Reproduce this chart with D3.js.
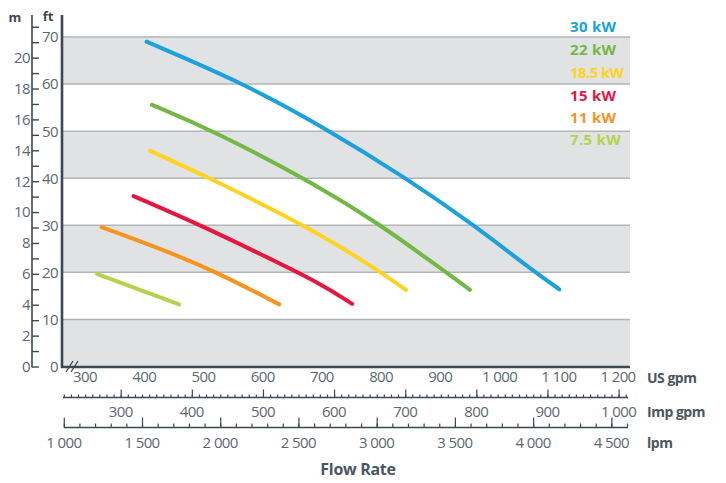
<!DOCTYPE html>
<html><head><meta charset="utf-8">
<script src="https://cdn.jsdelivr.net/npm/d3@7/dist/d3.min.js"></script>
<style>
body{margin:0;background:#fff}
svg{display:block;font-family:'Open Sans',sans-serif}
</style>
</head><body>
<svg id="chart" width="726" height="483"></svg>
<script>
// ---------- data ----------
const seriesNames  = ["30 kW","22 kW","18.5 kW","15 kW","11 kW","7.5 kW"];
const seriesColors = ["#1ba1dc","#72b844","#fed321","#e5173f","#f7941d","#b4d34a"];
const usgpm30  = [404, 567, 697, 843, 956, 1057, 1101];
const head30   = [69.0, 60.2, 51.3, 40.0, 30.1, 20.3, 16.4];
const usgpm22  = [413, 517, 697, 798, 866, 950];
const head22   = [55.6, 50.1, 38.2, 30.1, 24.0, 16.3];
const usgpm185 = [410, 522, 697, 798, 842];
const head185  = [45.8, 39.4, 28.3, 20.1, 16.3];
const usgpm15  = [382, 494, 596, 697, 751];
const head15   = [36.2, 30.1, 23.9, 17.7, 13.3];
const usgpm11  = [328, 432, 522, 628];
const head11   = [29.6, 24.8, 20.1, 13.2];
const usgpm75  = [320, 459];
const head75   = [19.7, 13.2];
const seriesFlow = [usgpm30, usgpm22, usgpm185, usgpm15, usgpm11, usgpm75];
const seriesHead = [head30, head22, head185, head15, head11, head75];

const usTicks  = [300,400,500,600,700,800,900,1000,1100,1200];
const impTicks = [300,400,500,600,700,800,900,1000];
const lpmTicks = [1000,1500,2000,2500,3000,3500,4000,4500];
const ftTicks  = [0,10,20,30,40,50,60,70];
const mTicks   = [0,2,4,6,8,10,12,14,16,18,20];
const ftBands  = [[0,10],[20,30],[40,50],[60,70]];

// ---------- scales ----------
const IMP = 1.20095, LPM = 3.78541, FT_PER_M = 3.28084;
const x = d3.scaleLinear().domain([300,1200]).range([85,618]);
const y = d3.scaleLinear().domain([0,70]).range([366.5,37]);
const yM = d3.scaleLinear().domain([0,70/FT_PER_M]).range([366.5,37]);
const xImp = d3.scaleLinear().domain([300,1000]).range([x(300*IMP), x(1000*IMP)]);
const xLpm = d3.scaleLinear().domain([1000,4500]).range([x(1000/LPM), x(4500/LPM)]);

const plotL = 62, plotR = 630, plotTop = 15, plotBot = 367;
const axisCol = "#3d4852", textCol = "#5d6870";
const fmt = v => v >= 1000 ? Math.floor(v/1000) + " " + String(v%1000).padStart(3,"0") : String(v);

const svg = d3.select("#chart");

// bands
svg.append("g").selectAll("rect").data(ftBands).join("rect")
  .attr("x", plotL).attr("width", plotR-plotL)
  .attr("y", d => y(d[1])).attr("height", d => y(d[0]) - y(d[1]))
  .attr("fill", "#e1e2e4");
// gridlines
svg.append("g").selectAll("line").data(ftTicks.filter(d=>d>0)).join("line")
  .attr("x1", plotL).attr("x2", plotR)
  .attr("y1", d => y(d)).attr("y2", d => y(d))
  .attr("stroke", "#b3b5b8").attr("stroke-width", 1.5);

// curves
const line = d3.line().x(d => x(d[0])).y(d => y(d[1])).curve(d3.curveBasis);
svg.append("g").selectAll("path").data(seriesNames).join("path")
  .attr("d", (d,i) => line(seriesFlow[i].map((f,j) => [f, seriesHead[i][j]])))
  .attr("fill","none").attr("stroke",(d,i)=>seriesColors[i])
  .attr("stroke-width",4).attr("stroke-linecap","round");

// legend
svg.append("g").selectAll("text").data(seriesNames).join("text")
  .attr("x", 570).attr("y", (d,i) => [27,50,72.5,96,117.5,139.5][i])
  .attr("dy","0.35em")
  .attr("fill",(d,i)=>seriesColors[i])
  .attr("font-size",15).attr("font-weight",700).attr("letter-spacing",(d,i)=> i===2 ? -0.6 : 0.3)
  .text(d=>d);

// ft axis line + bottom axis line
svg.append("line").attr("x1",plotL).attr("x2",plotL).attr("y1",plotTop).attr("y2",plotBot+1)
  .attr("stroke",axisCol).attr("stroke-width",2.6);
svg.append("line").attr("x1",plotL-1).attr("x2",plotR).attr("y1",plotBot).attr("y2",plotBot)
  .attr("stroke",axisCol).attr("stroke-width",2.6);
// break mark
svg.append("g").selectAll("line").data([0,5]).join("line")
  .attr("x1",d=>66+d).attr("y1",372).attr("x2",d=>73+d).attr("y2",361)
  .attr("stroke",axisCol).attr("stroke-width",1.3);

// m axis (ticks right, labels left)
const mAxis = svg.append("g").attr("transform","translate(32,0)")
  .call(d3.axisRight(yM).tickValues(d3.range(0,23)).tickSize(7).tickFormat(""));
mAxis.select(".domain").remove();
mAxis.selectAll(".tick line").attr("stroke",axisCol).attr("stroke-width",1.4);
svg.append("line").attr("x1",32).attr("x2",32).attr("y1",plotTop).attr("y2",plotBot+0.5)
  .attr("stroke",axisCol).attr("stroke-width",1.6);
svg.append("g").selectAll("text").data(mTicks).join("text")
  .attr("x",30).attr("y",d=>yM(d)).attr("dy","0.36em").attr("text-anchor","end")
  .attr("fill",textCol).attr("font-size",15).attr("letter-spacing",-0.6).text(d=>d);
// ft labels
svg.append("g").selectAll("text").data(ftTicks).join("text")
  .attr("x",58).attr("y",d=>y(d)).attr("dy","0.36em").attr("text-anchor","end")
  .attr("fill",textCol).attr("font-size",15).attr("letter-spacing",-0.6).text(d=>d);
// unit titles
svg.append("text").attr("x",15).attr("y",17).attr("dy","0.35em").attr("text-anchor","middle")
  .attr("fill",axisCol).attr("font-size",13).attr("font-weight",700).text("m");
svg.append("text").attr("x",48).attr("y",16).attr("dy","0.35em").attr("text-anchor","middle")
  .attr("fill",axisCol).attr("font-size",13).attr("font-weight",700).text("ft");

// US gpm labels
svg.append("g").selectAll("text").data(usTicks).join("text")
  .attr("x",d=>x(d)).attr("y",377).attr("dy","0.36em").attr("text-anchor","middle")
  .attr("fill",textCol).attr("font-size",15).attr("letter-spacing",-0.6).text(fmt);

// Imp gpm axis
const impY = 397.5;
svg.append("line").attr("x1",63).attr("x2",628).attr("y1",impY).attr("y2",impY)
  .attr("stroke",axisCol).attr("stroke-width",1.5);
const impMinor = svg.append("g").attr("transform",`translate(0,${impY})`)
  .call(d3.axisTop(xImp).tickValues(d3.range(220,1011,10)).tickSize(3).tickFormat(""));
const impMajor = svg.append("g").attr("transform",`translate(0,${impY})`)
  .call(d3.axisTop(xImp).tickValues(impTicks).tickSize(8).tickFormat(""));
[impMinor, impMajor].forEach(g=>{g.select(".domain").remove();
  g.selectAll(".tick line").attr("stroke",axisCol).attr("stroke-width",1.2);});
svg.append("g").selectAll("text").data(impTicks).join("text")
  .attr("x",d=>xImp(d)).attr("y",412).attr("dy","0.36em").attr("text-anchor","middle")
  .attr("fill",textCol).attr("font-size",15).attr("letter-spacing",-0.6).text(fmt);

// lpm axis
const lpmY = 427.5;
svg.append("line").attr("x1",64).attr("x2",628).attr("y1",lpmY).attr("y2",lpmY)
  .attr("stroke",axisCol).attr("stroke-width",1.5);
const lpmMinor = svg.append("g").attr("transform",`translate(0,${lpmY})`)
  .call(d3.axisTop(xLpm).tickValues(d3.range(1000,4601,100)).tickSize(4).tickFormat(""));
const lpmMajor = svg.append("g").attr("transform",`translate(0,${lpmY})`)
  .call(d3.axisTop(xLpm).tickValues(lpmTicks).tickSize(10).tickFormat(""));
[lpmMinor, lpmMajor].forEach(g=>{g.select(".domain").remove();
  g.selectAll(".tick line").attr("stroke",axisCol).attr("stroke-width",1.2);});
svg.append("g").selectAll("text").data(lpmTicks).join("text")
  .attr("x",d=>xLpm(d)).attr("y",443).attr("dy","0.36em").attr("text-anchor","middle")
  .attr("fill",textCol).attr("font-size",15).attr("letter-spacing",-0.6).text(fmt);

// unit labels
const unitNames = ["US gpm","Imp gpm","lpm"];
svg.append("g").selectAll("text").data(unitNames).join("text")
  .attr("x",647).attr("y",(d,i)=>[378,412,443][i]).attr("dy","0.36em")
  .attr("fill","#4a5660").attr("font-size",14).attr("font-weight",700).attr("letter-spacing",-0.5)
  .text(d=>d);
svg.append("text").attr("x",358).attr("y",469).attr("dy","0.36em").attr("text-anchor","middle")
  .attr("fill","#4a5660").attr("font-size",16).attr("font-weight",700).attr("letter-spacing",-0.3)
  .text("Flow Rate");
</script>
</body></html>
